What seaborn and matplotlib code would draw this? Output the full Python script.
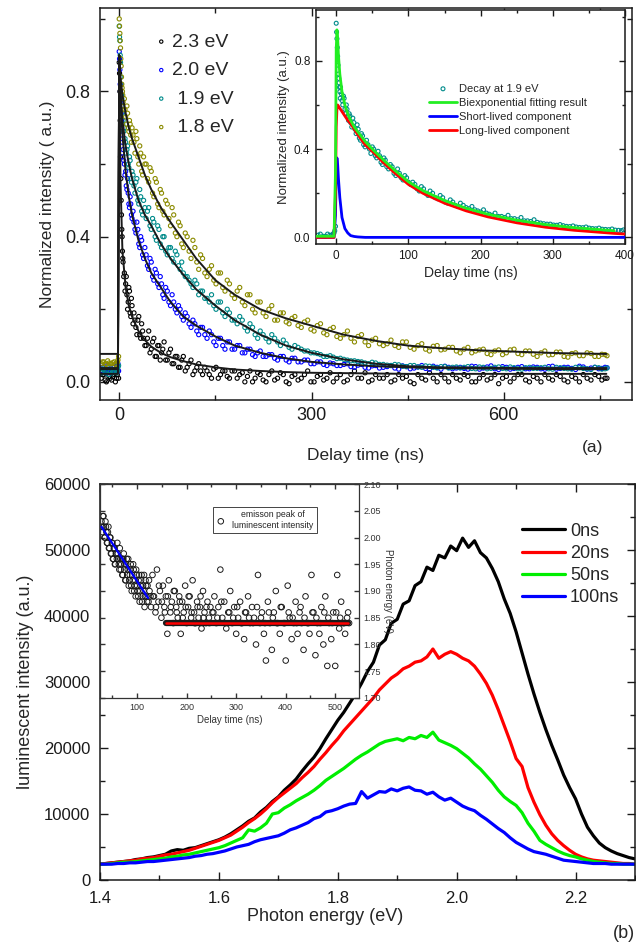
import numpy as np
import pandas as pd
import matplotlib
matplotlib.use('Agg')
import matplotlib.pyplot as plt
import seaborn as sns
from matplotlib.ticker import MultipleLocator, FormatStrFormatter

# ---------------- (a) main panel: decays at 4 photon energies ----------------
# two interleaved sets of readings per curve (a and b)
t_decay = [-28, -24, -20, -16, -12, -8, -4, -2,
           0, 1, 2, 3, 4, 5, 6,
           8, 10, 12, 14, 16, 18, 20,
           23, 26, 29, 32, 35, 38,
           42, 46, 50, 54, 58, 62, 66, 70,
           75, 80, 85, 90, 95, 100,
           106, 112, 118, 124, 130,
           137, 144, 151, 158, 165, 172,
           180, 188, 196, 204, 212, 220,
           229, 238, 247, 256, 265, 274,
           284, 294, 304, 314, 324, 334,
           345, 356, 367, 378, 389, 400,
           412, 424, 436, 448, 460, 472, 484, 496, 508, 520,
           532, 544, 556, 568, 580, 592, 604, 616, 628, 640,
           652, 664, 676, 688, 700, 712, 724, 736, 748, 758]
t_decay_b = [-26, -22, -18, -14, -10, -6, -3, -1,
             0.5, 1.5, 2.5, 3.5, 4.5, 5.5, 7,
             9, 11, 13, 15, 17, 19, 21.5,
             24.5, 27.5, 30.5, 33.5, 36.5, 40,
             44, 48, 52, 56, 60, 64, 68, 72.5,
             77.5, 82.5, 87.5, 92.5, 97.5, 103,
             109, 115, 121, 127, 133.5,
             140.5, 147.5, 154.5, 161.5, 168.5, 176,
             184, 192, 200, 208, 216, 224.5,
             233.5, 242.5, 251.5, 260.5, 269.5, 279,
             289, 299, 309, 319, 329, 339.5,
             350.5, 361.5, 372.5, 383.5, 394.5, 406,
             418, 430, 442, 454, 466, 478, 490, 502, 514, 526,
             538, 550, 562, 574, 586, 598, 610, 622, 634, 646,
             658, 670, 682, 694, 706, 718, 730, 742, 753, 761]

decay_23 = [0.01, 0.02, 0.00, 0.015, 0.005, 0.02, 0.01, 0.03,
            0.88, 0.80, 0.62, 0.50, 0.42, 0.36, 0.33,
            0.30, 0.27, 0.24, 0.22, 0.25, 0.18, 0.21,
            0.19, 0.15, 0.17, 0.13, 0.16, 0.12,
            0.10, 0.14, 0.09, 0.12, 0.07, 0.10, 0.08, 0.11,
            0.06, 0.09, 0.05, 0.07, 0.04, 0.07,
            0.04, 0.06, 0.03, 0.05, 0.02,
            0.03, 0.01, 0.04, 0.02, 0.03, 0.01,
            0.03, 0.02, 0.00, 0.03, 0.01, 0.02,
            0.00, 0.03, 0.01, 0.02, -0.005, 0.02,
            0.01, 0.03, 0.00, 0.02, 0.01, 0.00,
            0.02, 0.005, 0.03, 0.01, 0.00, 0.02,
            0.01, 0.00, 0.02, 0.015, -0.005, 0.01, 0.025, 0.00, 0.01, 0.02,
            0.005, 0.015, 0.00, 0.02, 0.01, -0.005, 0.015, 0.01, 0.02, 0.00,
            0.01, 0.02, 0.005, 0.015, 0.00, 0.01, 0.02, 0.005, 0.015, 0.01]
decay_23_b = [0.02, 0.005, 0.025, 0.01, 0.015, 0.0, 0.02, 0.01,
              0.85, 0.72, 0.56, 0.46, 0.40, 0.34, 0.29,
              0.25, 0.29, 0.20, 0.26, 0.19, 0.23, 0.16,
              0.17, 0.13, 0.18, 0.12, 0.14, 0.10,
              0.12, 0.08, 0.11, 0.07, 0.10, 0.06, 0.09, 0.06,
              0.08, 0.05, 0.07, 0.04, 0.06, 0.03,
              0.05, 0.02, 0.04, 0.03, 0.04,
              0.02, 0.035, 0.01, 0.03, 0.015, 0.03,
              0.01, 0.025, 0.015, 0.00, 0.025, 0.005,
              0.02, 0.005, 0.025, 0.00, 0.015, 0.005,
              0.02, 0.00, 0.015, 0.005, 0.025, 0.01,
              0.00, 0.02, 0.01, 0.025, 0.005, 0.01,
              0.02, 0.005, 0.01, 0.00, 0.02, 0.005, 0.01, 0.02, 0.00, 0.01,
              0.02, 0.00, 0.01, 0.005, 0.02, 0.01, 0.00, 0.02, 0.005, 0.015,
              0.00, 0.01, 0.02, 0.005, 0.015, 0.00, 0.01, 0.02, 0.005, 0.01]

decay_20 = [0.03, 0.04, 0.025, 0.035, 0.03, 0.04, 0.03, 0.05,
            0.91, 0.86, 0.80, 0.74, 0.70, 0.66, 0.64,
            0.60, 0.58, 0.53, 0.52, 0.48, 0.49, 0.45,
            0.44, 0.41, 0.42, 0.37, 0.39, 0.34,
            0.35, 0.31, 0.33, 0.28, 0.30, 0.26, 0.27, 0.23,
            0.25, 0.21, 0.22, 0.19, 0.20, 0.17,
            0.18, 0.15, 0.16, 0.13, 0.15,
            0.12, 0.13, 0.10, 0.12, 0.09, 0.11,
            0.09, 0.10, 0.08, 0.09, 0.07, 0.085,
            0.07, 0.075, 0.06, 0.07, 0.055, 0.065,
            0.055, 0.06, 0.05, 0.055, 0.045, 0.05,
            0.045, 0.05, 0.04, 0.048, 0.038, 0.045,
            0.04, 0.045, 0.035, 0.042, 0.038, 0.045, 0.035, 0.04, 0.043, 0.036,
            0.04, 0.035, 0.042, 0.038, 0.044, 0.034, 0.04, 0.037, 0.042, 0.036,
            0.04, 0.035, 0.043, 0.037, 0.04, 0.034, 0.041, 0.038, 0.036, 0.04]
decay_20_b = [0.04, 0.03, 0.045, 0.025, 0.04, 0.035, 0.045, 0.03,
              0.89, 0.82, 0.77, 0.72, 0.68, 0.62, 0.61,
              0.57, 0.54, 0.56, 0.49, 0.51, 0.46, 0.47,
              0.42, 0.44, 0.38, 0.40, 0.35, 0.37,
              0.32, 0.34, 0.29, 0.31, 0.27, 0.29, 0.24, 0.26,
              0.22, 0.24, 0.20, 0.21, 0.18, 0.19,
              0.16, 0.17, 0.14, 0.15, 0.13,
              0.14, 0.11, 0.12, 0.10, 0.11, 0.09,
              0.10, 0.08, 0.09, 0.075, 0.08, 0.07,
              0.075, 0.065, 0.07, 0.06, 0.065, 0.055,
              0.06, 0.05, 0.055, 0.048, 0.052, 0.045,
              0.048, 0.042, 0.046, 0.04, 0.044, 0.038,
              0.042, 0.038, 0.044, 0.036, 0.041, 0.037, 0.043, 0.035, 0.04, 0.038,
              0.037, 0.043, 0.035, 0.041, 0.036, 0.042, 0.035, 0.04, 0.036, 0.041,
              0.036, 0.042, 0.035, 0.04, 0.037, 0.043, 0.035, 0.04, 0.037, 0.039]

decay_19 = [0.025, 0.035, 0.03, 0.02, 0.035, 0.03, 0.025, 0.04,
            0.98, 0.94, 0.88, 0.82, 0.78, 0.74, 0.72,
            0.70, 0.66, 0.64, 0.60, 0.62, 0.56, 0.58,
            0.54, 0.55, 0.50, 0.53, 0.47, 0.50,
            0.45, 0.48, 0.42, 0.44, 0.39, 0.42, 0.37, 0.40,
            0.35, 0.37, 0.33, 0.35, 0.31, 0.30,
            0.29, 0.27, 0.28, 0.24, 0.25,
            0.23, 0.24, 0.20, 0.22, 0.18, 0.19,
            0.17, 0.18, 0.15, 0.16, 0.13, 0.14,
            0.12, 0.13, 0.11, 0.115, 0.095, 0.10,
            0.09, 0.085, 0.08, 0.075, 0.07, 0.068,
            0.065, 0.06, 0.058, 0.055, 0.05, 0.052,
            0.048, 0.045, 0.047, 0.042, 0.045, 0.04, 0.043, 0.038, 0.042, 0.04,
            0.038, 0.042, 0.036, 0.04, 0.037, 0.041, 0.036, 0.039, 0.035, 0.04,
            0.037, 0.04, 0.035, 0.039, 0.036, 0.04, 0.037, 0.034, 0.039, 0.036]
decay_19_b = [0.035, 0.025, 0.04, 0.03, 0.025, 0.035, 0.03, 0.045,
              0.95, 0.90, 0.84, 0.79, 0.76, 0.71, 0.69,
              0.67, 0.63, 0.65, 0.59, 0.61, 0.55, 0.57,
              0.52, 0.56, 0.49, 0.51, 0.46, 0.48,
              0.47, 0.43, 0.45, 0.40, 0.43, 0.38, 0.40, 0.36,
              0.37, 0.34, 0.36, 0.32, 0.33, 0.29,
              0.28, 0.26, 0.27, 0.25, 0.23,
              0.22, 0.21, 0.22, 0.19, 0.20, 0.17,
              0.16, 0.17, 0.14, 0.15, 0.12, 0.13,
              0.11, 0.12, 0.10, 0.105, 0.09, 0.095,
              0.085, 0.08, 0.078, 0.07, 0.072, 0.064,
              0.062, 0.058, 0.056, 0.052, 0.054, 0.048,
              0.046, 0.048, 0.043, 0.045, 0.041, 0.044, 0.04, 0.042, 0.038, 0.041,
              0.04, 0.037, 0.041, 0.036, 0.04, 0.037, 0.041, 0.036, 0.039, 0.037,
              0.039, 0.036, 0.04, 0.037, 0.035, 0.039, 0.036, 0.04, 0.035, 0.038]

decay_18 = [0.05, 0.055, 0.048, 0.052, 0.05, 0.055, 0.05, 0.06,
            1.00, 0.96, 0.92, 0.87, 0.82, 0.80, 0.77,
            0.78, 0.73, 0.76, 0.70, 0.72, 0.68, 0.70,
            0.66, 0.69, 0.62, 0.65, 0.58, 0.62,
            0.60, 0.55, 0.58, 0.51, 0.55, 0.48, 0.52, 0.46,
            0.49, 0.43, 0.46, 0.40, 0.43, 0.37,
            0.40, 0.34, 0.37, 0.31, 0.34,
            0.29, 0.32, 0.27, 0.30, 0.25, 0.27,
            0.23, 0.26, 0.21, 0.24, 0.19, 0.22,
            0.18, 0.21, 0.17, 0.19, 0.16, 0.18,
            0.15, 0.17, 0.14, 0.16, 0.13, 0.15,
            0.12, 0.14, 0.11, 0.13, 0.10, 0.12,
            0.10, 0.115, 0.095, 0.11, 0.09, 0.105, 0.085, 0.10, 0.09, 0.095,
            0.08, 0.095, 0.085, 0.09, 0.075, 0.088, 0.08, 0.09, 0.075, 0.085,
            0.07, 0.085, 0.075, 0.082, 0.068, 0.08, 0.072, 0.078, 0.07, 0.075]
decay_18_b = [0.055, 0.05, 0.058, 0.05, 0.053, 0.048, 0.055, 0.07,
              0.98, 0.94, 0.89, 0.84, 0.81, 0.79, 0.75,
              0.75, 0.71, 0.74, 0.69, 0.71, 0.66, 0.68,
              0.63, 0.67, 0.60, 0.63, 0.57, 0.60,
              0.56, 0.59, 0.52, 0.56, 0.49, 0.53, 0.47, 0.50,
              0.45, 0.48, 0.41, 0.44, 0.38, 0.41,
              0.36, 0.39, 0.33, 0.35, 0.30,
              0.31, 0.28, 0.30, 0.26, 0.28, 0.24,
              0.25, 0.22, 0.24, 0.20, 0.22, 0.19,
              0.20, 0.17, 0.19, 0.165, 0.175, 0.155,
              0.165, 0.145, 0.155, 0.135, 0.145, 0.125,
              0.13, 0.12, 0.125, 0.11, 0.115, 0.105,
              0.105, 0.10, 0.11, 0.095, 0.10, 0.09, 0.098, 0.088, 0.095, 0.085,
              0.09, 0.08, 0.088, 0.078, 0.085, 0.075, 0.088, 0.078, 0.085, 0.076,
              0.08, 0.074, 0.082, 0.07, 0.078, 0.072, 0.08, 0.07, 0.076, 0.072]

t_fit = [-30, -2, 0, 2, 5, 10, 15, 20, 30, 40, 50, 65, 80, 100, 120, 150,
         180, 220, 260, 300, 350, 400, 450, 500, 560, 620, 690, 760]
fit_23 = [0.022, 0.022, 0.90, 0.55, 0.36, 0.26, 0.21, 0.18, 0.14, 0.115, 0.097, 0.08, 0.068, 0.057,
          0.048, 0.04, 0.034, 0.03, 0.027, 0.025, 0.024, 0.023, 0.022, 0.022, 0.022, 0.022, 0.022, 0.022]
fit_20 = [0.035, 0.035, 0.90, 0.78, 0.68, 0.58, 0.51, 0.46, 0.39, 0.34, 0.30, 0.26, 0.22, 0.18,
          0.155, 0.125, 0.10, 0.08, 0.065, 0.055, 0.048, 0.043, 0.04, 0.038, 0.037, 0.036, 0.035, 0.035]
fit_19 = [0.038, 0.038, 0.90, 0.80, 0.72, 0.65, 0.60, 0.56, 0.50, 0.46, 0.43, 0.38, 0.34, 0.295,
          0.255, 0.21, 0.17, 0.13, 0.10, 0.08, 0.062, 0.05, 0.043, 0.04, 0.039, 0.038, 0.038, 0.038]
fit_18 = [0.077, 0.077, 0.90, 0.84, 0.79, 0.74, 0.70, 0.67, 0.62, 0.57, 0.53, 0.48, 0.44, 0.39,
          0.34, 0.28, 0.24, 0.20, 0.175, 0.155, 0.13, 0.113, 0.10, 0.093, 0.087, 0.083, 0.079, 0.077]

decay_labels = ['2.3 eV', '2.0 eV', ' 1.9 eV', ' 1.8 eV']
decay_colors = ['#000000', '#0000ff', '#008b8b', '#8b8b00']

# ---------------- (a) inset: 1.9 eV decay + biexponential ----------------
t_in = [-25, -18, -12, -6, -3, -1,
        0, 1, 2, 3, 4, 5, 6,
        8, 10, 12, 14, 16, 18, 20,
        23, 26, 29, 32, 35, 38,
        42, 46, 50, 54, 58, 62, 66, 70,
        75, 80, 85, 90, 95, 100,
        106, 112, 118, 124, 130,
        137, 144, 151, 158, 165, 172,
        180, 188, 196, 204, 212, 220,
        229, 238, 247, 256, 265, 274,
        283, 292, 301, 310, 319, 328, 337, 346, 355, 364, 373, 382, 391, 398]
decay_19_in = [0.01, 0.005, 0.015, 0.01, 0.02, 0.05,
               0.97, 0.90, 0.82, 0.74, 0.70, 0.66, 0.68,
               0.62, 0.64, 0.58, 0.60, 0.55, 0.56, 0.52,
               0.54, 0.49, 0.51, 0.45, 0.47, 0.42,
               0.44, 0.40, 0.41, 0.37, 0.39, 0.34, 0.36, 0.32,
               0.33, 0.29, 0.31, 0.27, 0.28, 0.25,
               0.25, 0.22, 0.23, 0.20, 0.21,
               0.18, 0.19, 0.16, 0.17, 0.145, 0.155,
               0.135, 0.14, 0.12, 0.125, 0.105, 0.11,
               0.095, 0.10, 0.085, 0.09, 0.075, 0.08,
               0.065, 0.06, 0.056, 0.058, 0.05, 0.052, 0.045, 0.047, 0.04, 0.042,
               0.036, 0.038, 0.032, 0.034]
t_in_b = [-22, -15, -9, -4.5, -2,
          0.5, 1.5, 2.5, 3.5, 4.5, 5.5, 7,
          9, 11, 13, 15, 17, 19, 21.5, 24.5, 27.5, 30.5, 33.5, 36.5, 40,
          44, 48, 52, 56, 60, 64, 68, 72.5, 77.5, 82.5, 87.5, 92.5, 97.5, 103,
          109, 115, 121, 127, 133.5, 140.5, 147.5, 154.5, 161.5, 168.5, 176,
          184, 192, 200, 208, 216, 224.5, 233.5, 242.5, 251.5, 260.5, 269.5, 278.5,
          287.5, 296.5, 305.5, 314.5, 323.5, 332.5, 341.5, 350.5, 359.5, 368.5, 377.5, 386.5, 395]
decay_19_in_b = [0.015, 0.005, 0.01, 0.015, 0.03,
                 0.93, 0.86, 0.78, 0.72, 0.68, 0.63, 0.65,
                 0.60, 0.63, 0.56, 0.58, 0.53, 0.55, 0.50, 0.52, 0.47, 0.49, 0.44, 0.46, 0.41,
                 0.42, 0.38, 0.40, 0.36, 0.37, 0.33, 0.35, 0.31, 0.32, 0.28, 0.29, 0.26, 0.27, 0.24,
                 0.24, 0.21, 0.22, 0.19, 0.20, 0.175, 0.18, 0.155, 0.16, 0.14, 0.145,
                 0.13, 0.125, 0.115, 0.11, 0.10, 0.095, 0.09, 0.085, 0.08, 0.075, 0.072, 0.068,
                 0.062, 0.06, 0.055, 0.053, 0.049, 0.047, 0.044, 0.042, 0.039, 0.037, 0.035, 0.033, 0.031]

t_comp = [-28, -3, -1, 0, 1, 2, 3, 5, 8, 12, 16, 20, 25, 30, 40, 50, 65, 80, 100,
          120, 150, 180, 210, 250, 290, 330, 385, 400]
biexp_fit = [0.005, 0.005, 0.30, 0.85, 0.94, 0.90, 0.83, 0.74, 0.66, 0.60, 0.56, 0.53, 0.50,
             0.478, 0.435, 0.40, 0.352, 0.307, 0.252, 0.212, 0.167, 0.132, 0.105, 0.078,
             0.058, 0.044, 0.030]
short_comp = [0, 0, 0.10, 0.30, 0.36, 0.33, 0.27, 0.18, 0.09, 0.04, 0.02, 0.008, 0.004,
              0.002, 0, 0, 0, 0, 0, 0, 0, 0, 0, 0, 0, 0, 0, 0]
long_comp = [0, 0, 0.20, 0.50, 0.58, 0.60, 0.595, 0.585, 0.57, 0.55, 0.53, 0.515, 0.49,
             0.465, 0.42, 0.39, 0.34, 0.295, 0.24, 0.20, 0.155, 0.12, 0.093, 0.066,
             0.046, 0.032, 0.018, 0.015]

# ---------------- (b) time-resolved spectra (x1000 counts) ----------------
energy = np.round(np.arange(1.40, 2.305, 0.01), 2)
spec_0ns = [2.4, 2.5, 2.6, 2.7, 2.8, 2.9, 3.1, 3.2, 3.4, 3.5,
            3.7, 3.9, 4.4, 4.6, 4.5, 4.8, 4.9, 5.2, 5.5, 5.8,
            6.1, 6.5, 7.0, 7.6, 8.2, 8.9, 9.4, 10.3, 11.0, 11.9,
            12.6, 13.6, 14.4, 15.3, 16.5, 17.6, 18.6, 19.9, 21.4, 22.8,
            24.2, 25.4, 26.8, 28.2, 29.8, 31.6, 33.0, 35.6, 36.4, 38.9,
            39.5, 41.8, 42.3, 44.6, 45.2, 47.4, 46.9, 49.2, 48.8, 50.6,
            49.9, 51.8, 50.4, 51.4, 49.6, 48.8, 47.2, 45.2, 42.6, 40.4,
            37.6, 34.4, 31.2, 28.2, 25.4, 22.8, 20.4, 18.2, 15.9, 14.0,
            12.3, 10.0, 8.0, 6.7, 5.6, 4.9, 4.4, 4.0, 3.7, 3.4,
            3.2]
spec_20ns = [2.4, 2.5, 2.6, 2.7, 2.8, 2.9, 3.0, 3.2, 3.3, 3.4,
             3.6, 3.8, 3.9, 4.1, 4.3, 4.5, 4.8, 5.1, 5.4, 5.7,
             6.0, 6.4, 6.8, 7.4, 8.0, 8.7, 9.3, 10.0, 10.8, 11.7,
             12.5, 13.2, 13.9, 14.6, 15.5, 16.3, 17.2, 18.3, 19.3, 20.4,
             21.4, 22.6, 23.6, 24.6, 25.6, 26.6, 27.6, 28.8, 29.7, 30.6,
             31.2, 32.0, 32.4, 33.0, 33.2, 33.8, 35.0, 33.6, 34.2, 34.6,
             34.2, 33.6, 33.2, 32.4, 31.2, 29.8, 28.0, 25.8, 23.4, 21.0,
             18.4, 17.2, 14.0, 11.8, 9.9, 8.3, 7.0, 6.0, 5.2, 4.5,
             3.9, 3.5, 3.2, 3.0, 2.9, 2.8, 2.7, 2.6, 2.5, 2.5,
             2.4]
spec_50ns = [2.4, 2.4, 2.5, 2.6, 2.7, 2.7, 2.8, 2.9, 3.0, 3.1,
             3.2, 3.3, 3.5, 3.6, 3.8, 3.9, 4.1, 4.3, 4.5, 4.7,
             4.9, 5.2, 5.6, 6.0, 6.4, 7.6, 7.4, 7.9, 8.6, 10.0,
             10.2, 10.9, 11.4, 12.0, 12.5, 13.0, 13.6, 14.3, 15.1, 15.7,
             16.3, 16.9, 17.6, 18.3, 18.9, 19.4, 20.0, 20.6, 21.0, 21.2,
             21.4, 21.1, 21.6, 21.4, 21.9, 21.6, 22.4, 21.2, 20.8, 20.4,
             19.9, 19.2, 18.5, 17.6, 16.8, 15.8, 14.8, 13.6, 12.6, 11.9,
             11.3, 10.2, 8.6, 7.4, 6.0, 5.4, 4.9, 4.4, 4.0, 3.7,
             3.5, 3.2, 3.0, 2.8, 2.7, 2.6, 2.5, 2.5, 2.4, 2.4,
             2.4]
spec_100ns = [2.4, 2.4, 2.4, 2.5, 2.5, 2.6, 2.6, 2.7, 2.8, 2.8,
              2.9, 3.0, 3.1, 3.2, 3.3, 3.4, 3.6, 3.7, 3.9, 4.0,
              4.2, 4.4, 4.7, 5.0, 5.2, 5.4, 5.8, 6.1, 6.3, 6.5,
              6.7, 7.1, 7.6, 7.9, 8.3, 8.7, 9.3, 9.6, 10.3, 10.5,
              10.8, 11.2, 11.5, 11.6, 13.4, 12.4, 12.9, 13.4, 13.3, 13.8,
              13.5, 13.9, 14.1, 13.6, 13.5, 13.0, 13.3, 12.6, 12.1, 12.4,
              11.8, 11.2, 10.8, 10.5, 9.8, 9.2, 8.5, 7.8, 7.2, 6.4,
              5.7, 5.2, 4.7, 4.3, 4.1, 3.9, 3.6, 3.3, 3.0, 2.9,
              2.8, 2.7, 2.6, 2.5, 2.5, 2.5, 2.4, 2.4, 2.4, 2.4,
              2.4]
spec_labels = ['0ns', '20ns', '50ns', '100ns']
spec_colors = ['#000000', '#ff0000', '#00ee00', '#0000ff']

# ---------------- (b) inset: emission peak position vs delay ----------------
t_peak = [28, 30, 31, 33, 35, 36, 38, 40, 42, 43, 45, 47, 49, 51, 53, 55, 57, 59,
          61, 63, 65, 67, 69, 71, 73, 75, 77, 79, 81, 83, 85, 87, 89, 91, 93, 95, 97, 99,
          101, 103, 105, 107, 109, 111, 113, 115, 117, 119, 121, 123, 125,
          128, 131, 134, 137, 140, 143, 146, 149, 152, 155, 158, 161, 164, 167, 170,
          173, 176, 179, 182, 185, 188, 191, 194, 197, 200, 203, 206, 209, 212, 215,
          218, 221, 224, 227, 230, 233, 236, 239, 242, 245, 248,
          252, 256, 260, 264, 268, 272, 276, 280, 284, 288,
          292, 296, 300, 304, 308, 312, 316, 320, 324, 328,
          332, 336, 340, 344, 348, 352, 356, 360, 364, 368,
          372, 376, 380, 384, 388, 392, 396, 400, 404, 408,
          412, 416, 420, 424, 428, 432, 436, 440, 444, 448,
          452, 456, 460, 464, 468, 472, 476, 480, 484, 488,
          492, 496, 500, 504, 508, 512, 516, 520, 524, 528]
e_peak = [2.03, 2.01, 2.04, 2.02, 2.00, 2.03, 2.01, 1.99, 2.02, 1.98, 2.00, 1.97, 1.99, 1.96, 1.98, 1.95, 1.97, 1.96,
          1.97, 1.95, 1.98, 1.94, 1.96, 1.93, 1.97, 1.95, 1.92, 1.96, 1.94, 1.91, 1.93, 1.95, 1.90, 1.92, 1.94, 1.91, 1.89, 1.93,
          1.90, 1.92, 1.88, 1.91, 1.93, 1.89, 1.90, 1.87, 1.92, 1.89, 1.91, 1.88, 1.90,
          1.87, 1.93, 1.89, 1.86, 1.94, 1.88, 1.90, 1.85, 1.91, 1.87, 1.89, 1.82, 1.92, 1.86, 1.88,
          1.84, 1.90, 1.87, 1.85, 1.89, 1.82, 1.88, 1.86, 1.91, 1.84, 1.87, 1.89, 1.85, 1.92, 1.86,
          1.84, 1.88, 1.85, 1.87, 1.83, 1.90, 1.86, 1.84, 1.88, 1.85, 1.87,
          1.86, 1.89, 1.84, 1.87, 1.94, 1.85, 1.88, 1.83, 1.86, 1.90,
          1.84, 1.87, 1.82, 1.85, 1.88, 1.84, 1.81, 1.86, 1.89, 1.84,
          1.87, 1.85, 1.80, 1.93, 1.84, 1.86, 1.82, 1.77, 1.88, 1.84,
          1.79, 1.86, 1.90, 1.84, 1.82, 1.87, 1.84, 1.77, 1.91, 1.85,
          1.81, 1.84, 1.88, 1.82, 1.86, 1.84, 1.79, 1.89, 1.84, 1.82,
          1.93, 1.86, 1.78, 1.84, 1.82, 1.87, 1.80, 1.89, 1.76, 1.84,
          1.81, 1.86, 1.76, 1.93, 1.83, 1.88, 1.84, 1.82, 1.85, 1.84]
t_peak_b = [29, 32, 34, 37, 39, 41, 44, 46, 48, 50, 52, 54, 56, 58, 60, 62, 64, 66, 68, 70,
            72, 74, 76, 78, 80, 82, 84, 86, 88, 90, 92, 94, 96, 98, 100, 102, 104, 106, 108, 110,
            112, 114, 116, 118, 120, 124, 127,
            132, 138, 144, 150, 156, 162, 168, 174, 180, 186, 192, 198, 204, 210, 216, 222, 228, 234, 240, 246,
            254, 262, 270, 278, 286, 294, 302, 310, 318, 326,
            334, 342, 350, 358, 366, 374, 382, 390, 398, 406,
            414, 422, 430, 438, 446, 454, 462, 470, 478, 486,
            494, 502, 510, 518, 526]
e_peak_b = [2.02, 2.04, 2.00, 2.02, 1.99, 2.01, 1.98, 2.00, 1.97, 1.99, 1.96, 1.98, 1.95, 1.97, 1.99, 1.96, 1.94, 1.96, 1.95, 1.93,
            1.96, 1.94, 1.92, 1.95, 1.93, 1.96, 1.92, 1.94, 1.91, 1.93, 1.95, 1.90, 1.92, 1.94, 1.91, 1.89, 1.93, 1.90, 1.92, 1.88,
            1.91, 1.93, 1.89, 1.91, 1.88, 1.92, 1.89,
            1.89, 1.87, 1.91, 1.88, 1.86, 1.89, 1.87, 1.90, 1.86, 1.88, 1.85, 1.87, 1.89, 1.86, 1.84, 1.87, 1.89, 1.85, 1.87, 1.84,
            1.86, 1.85, 1.88, 1.84, 1.86, 1.85, 1.87, 1.84, 1.86, 1.85,
            1.84, 1.87, 1.85, 1.84, 1.86, 1.85, 1.84, 1.87, 1.84, 1.86,
            1.85, 1.84, 1.87, 1.85, 1.84, 1.86, 1.85, 1.84, 1.86, 1.85,
            1.84, 1.86, 1.85, 1.84, 1.86]
fast_t = [28, 122]
fast_e = [2.02, 1.887]
flat_t = [158, 526]
flat_e = [1.841, 1.841]

# ---------------- figure ----------------
sns.set_theme(style='ticks')
plt.rcParams['font.family'] = ['Liberation Sans', 'DejaVu Sans']
plt.rcParams['axes.linewidth'] = 1.1

W, H = 636, 947
fig = plt.figure(figsize=(W / 100, H / 100), dpi=100)


def px_box(x0, y0, x1, y1):
    return [x0 / W, 1 - y1 / H, (x1 - x0) / W, (y1 - y0) / H]


def style_ticks(ax, size, pad_x, pad_y, major=6, minor=3.5, color='k'):
    ax.tick_params(which='both', direction='in', top=True, right=True,
                   labelsize=size, colors=color, width=1)
    ax.tick_params(which='major', length=major)
    ax.tick_params(which='minor', length=minor)
    ax.tick_params(axis='x', pad=pad_x)
    ax.tick_params(axis='y', pad=pad_y)
    for s in ax.spines.values():
        s.set_color('k')


# (a) main
ax_a = fig.add_axes(px_box(100, 8, 632, 400))
decays = [decay_23 + decay_23_b, decay_20 + decay_20_b,
          decay_19 + decay_19_b, decay_18 + decay_18_b]
fits = [fit_23, fit_20, fit_19, fit_18]
for vals, lab, col in zip(decays, decay_labels, decay_colors):
    sns.scatterplot(x=t_decay + t_decay_b, y=vals, ax=ax_a, marker='o', s=9, facecolor='none',
                    edgecolor=col, linewidth=0.8, label=lab, zorder=2)
for vals in fits:
    sns.lineplot(x=t_fit, y=vals, ax=ax_a, color='k', lw=1.4, estimator=None,
                 sort=False, zorder=3)
ax_a.set_xlim(-30, 800)
ax_a.set_ylim(-0.05, 1.03)
ax_a.xaxis.set_major_locator(MultipleLocator(300))
ax_a.xaxis.set_minor_locator(MultipleLocator(150))
ax_a.yaxis.set_major_locator(MultipleLocator(0.4))
ax_a.yaxis.set_minor_locator(MultipleLocator(0.2))
ax_a.yaxis.set_major_formatter(FormatStrFormatter('%.1f'))
style_ticks(ax_a, 13, 5, 7)
ax_a.set_xlabel('Delay time (ns)', fontsize=12.5, labelpad=17)
ax_a.set_ylabel('Normalized intensity ( a.u.)', fontsize=12.5, labelpad=7)
ax_a.legend(loc='upper left', bbox_to_anchor=(0.106, 0.936), frameon=False,
            fontsize=14, handlelength=0.5, handletextpad=0.3, labelspacing=0.56,
            borderpad=0, borderaxespad=0, markerscale=0.8)

# (a) inset
ax_ai = fig.add_axes(px_box(316, 10, 625, 244))
ax_ai.set_facecolor('white')
sns.scatterplot(x=t_in + t_in_b, y=decay_19_in + decay_19_in_b, ax=ax_ai, marker='o', s=8,
                facecolor='none', edgecolor='#008b8b', linewidth=0.8,
                label='Decay at 1.9 eV', zorder=2)
sns.lineplot(x=t_comp[:-1], y=biexp_fit, ax=ax_ai, color='#22ee22', lw=2.0,
             estimator=None, sort=False, label='Biexponential fitting result', zorder=4)
sns.lineplot(x=t_comp, y=short_comp, ax=ax_ai, color='#0000ff', lw=2.0,
             estimator=None, sort=False, label='Short-lived component', zorder=3)
sns.lineplot(x=t_comp, y=long_comp, ax=ax_ai, color='#ff0000', lw=2.0,
             estimator=None, sort=False, label='Long-lived component', zorder=3)
ax_ai.set_xlim(-28, 400)
ax_ai.set_ylim(-0.03, 1.03)
ax_ai.xaxis.set_major_locator(MultipleLocator(100))
ax_ai.xaxis.set_minor_locator(MultipleLocator(50))
ax_ai.yaxis.set_major_locator(MultipleLocator(0.4))
ax_ai.yaxis.set_minor_locator(MultipleLocator(0.2))
ax_ai.yaxis.set_major_formatter(FormatStrFormatter('%.1f'))
style_ticks(ax_ai, 8.5, 4, 4, major=4, minor=2.5)
ax_ai.set_xlabel('Delay time (ns)', fontsize=10, labelpad=3)
ax_ai.set_ylabel('Normalized intensity (a.u.)', fontsize=9.5, labelpad=3)
ax_ai.legend(loc='upper left', bbox_to_anchor=(0.366, 0.685), frameon=False,
             fontsize=8, handlelength=2.5, handletextpad=0.15, labelspacing=0.38,
             borderpad=0, borderaxespad=0)

fig.text(593 / W, 1 - 447 / H, '(a)', fontsize=12.5, ha='center', va='center')

# (b) main
ax_b = fig.add_axes(px_box(100, 484, 635, 880))
for vals, lab, col in zip([spec_0ns, spec_20ns, spec_50ns, spec_100ns], spec_labels, spec_colors):
    sns.lineplot(x=energy, y=np.array(vals) * 1000, ax=ax_b, color=col, lw=2.3,
                 estimator=None, sort=False, label=lab)
ax_b.set_xlim(1.4, 2.3)
ax_b.set_ylim(0, 60000)
ax_b.xaxis.set_major_locator(MultipleLocator(0.2))
ax_b.xaxis.set_minor_locator(MultipleLocator(0.1))
ax_b.yaxis.set_major_locator(MultipleLocator(10000))
ax_b.yaxis.set_minor_locator(MultipleLocator(5000))
ax_b.xaxis.set_major_formatter(FormatStrFormatter('%.1f'))
ax_b.yaxis.set_major_formatter(FormatStrFormatter('%d'))
style_ticks(ax_b, 12, 8, 7)
ax_b.set_xlabel('Photon energy (eV)', fontsize=13, labelpad=1, x=0.42)
ax_b.set_ylabel('luminescent intensity (a.u.)', fontsize=13, labelpad=7)
ax_b.legend(loc='upper left', bbox_to_anchor=(0.789, 0.902), frameon=False,
            fontsize=13, handlelength=2.4, handletextpad=0.25, labelspacing=0.28,
            borderpad=0, borderaxespad=0)

# (b) inset
ax_bi = fig.add_axes(px_box(100, 484, 359, 698))
ax_bi.set_facecolor('white')
sns.scatterplot(x=t_peak + t_peak_b, y=e_peak + e_peak_b, ax=ax_bi, marker='o', s=16,
                facecolor='none', edgecolor='k', linewidth=0.7, zorder=2,
                label='emisson peak of\nluminescent intensity')
sns.lineplot(x=fast_t, y=fast_e, ax=ax_bi, color='#0000ff', lw=1.6, estimator=None, zorder=4)
sns.lineplot(x=flat_t, y=flat_e, ax=ax_bi, color='k', lw=4.5, estimator=None, zorder=3)
sns.lineplot(x=flat_t, y=flat_e, ax=ax_bi, color='#ff0000', lw=1.8, estimator=None, zorder=4)
ax_bi.set_xlim(25, 548)
ax_bi.set_ylim(1.70, 2.10)
ax_bi.xaxis.set_major_locator(MultipleLocator(100))
ax_bi.xaxis.set_minor_locator(MultipleLocator(50))
ax_bi.yaxis.set_major_locator(MultipleLocator(0.05))
ax_bi.yaxis.set_major_formatter(FormatStrFormatter('%.2f'))
style_ticks(ax_bi, 6.5, 3.5, 3, major=3.5, minor=2, color='#333333')
ax_bi.tick_params(axis='y', labelleft=False, labelright=True)
ax_bi.yaxis.set_label_position('right')
ax_bi.set_xlabel('Delay time (ns)', fontsize=7, labelpad=2, color='#333333')
ax_bi.set_ylabel('Photon energy (eV)', fontsize=7, rotation=270, labelpad=9, color='#333333')
for s in ax_bi.spines.values():
    s.set_color('#333333')
    s.set_linewidth(0.9)
leg = ax_bi.legend(loc='upper left', bbox_to_anchor=(0.436, 0.893), frameon=True,
                   fancybox=False, edgecolor='#444444', framealpha=1, fontsize=6.3,
                   handlelength=1, handletextpad=0.8, borderpad=0.4, borderaxespad=0)
leg.get_frame().set_linewidth(0.7)
for txt in leg.get_texts():
    txt.set_multialignment('center')

fig.text(624 / W, 1 - 933 / H, '(b)', fontsize=13, ha='center', va='center')

fig.savefig('out.png', dpi=100)
